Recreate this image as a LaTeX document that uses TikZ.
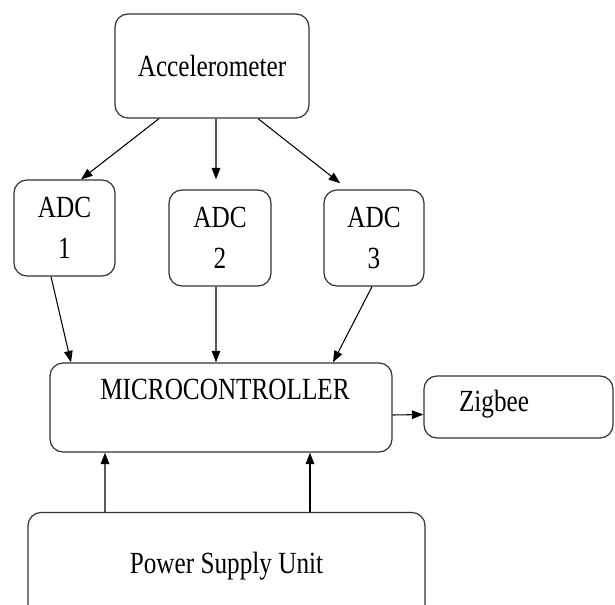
\documentclass[tikz,border=0pt]{standalone}
\usepackage{fontspec}
\setmainfont{Liberation Serif}[FakeStretch=0.82]
\usetikzlibrary{arrows.meta}

\begin{document}
\begin{tikzpicture}[
	box/.style={draw=black!80, line width=0.7pt, rounded corners=0.26cm, inner sep=0pt, align=center,
		font=\fontsize{17.5}{23}\selectfont},
	flow/.style={-{Triangle[length=2.3mm,width=1.7mm]}, line width=0.6pt},
	lbl/.style={font=\fontsize{17.5}{23}\selectfont}]
	\useasboundingbox (0,0) rectangle (12.3,12.08);
	\clip (0,0) rectangle (12.3,12.08);
	% sensor and the three converters
	\node[box, minimum width=3.88cm, minimum height=2.08cm] (acc) at (4.24,10.76) {Accelerometer};
	\node[box, minimum width=2.02cm, minimum height=1.92cm] (adc1) at (1.29,7.52) {ADC\\1};
	\node[box, minimum width=2.04cm, minimum height=1.92cm] (adc2) at (4.40,7.32) {ADC\\2};
	\node[box, minimum width=2.00cm, minimum height=1.92cm] (adc3) at (7.48,7.32) {ADC\\3};
	\draw[flow] ([xshift=-1.06cm]acc.south) -- ([xshift=0.33cm]adc1.north);
	\draw[flow, shorten >=0.2cm] ([xshift=0.08cm]acc.south) -- ([xshift=-0.08cm]adc2.north);
	\draw[flow, shorten >=0.2cm] ([xshift=0.92cm]acc.south) -- ([xshift=-0.52cm]adc3.north);
	% controller, radio, supply
	\node[box, minimum width=6.84cm, minimum height=1.78cm,
		label={[lbl, xshift=0.08cm, yshift=0.36cm]center:MICROCONTROLLER}] (mc) at (4.42,3.93) {};
	\node[box, minimum width=3.78cm, minimum height=1.24cm,
		label={[lbl, xshift=-0.49cm, yshift=0.06cm]center:Zigbee}] (zig) at (10.37,3.94) {};
	\node[box, minimum width=7.94cm, minimum height=2.14cm] (psu) at (4.53,0.76) {Power Supply Unit};
	\draw[flow] ([xshift=-0.27cm]adc1.south) -- ([xshift=-3.00cm]mc.north);
	\draw[flow] ([xshift=-0.08cm]adc2.south) -- ([xshift=-0.10cm]mc.north);
	\draw[flow] ([xshift=-0.04cm]adc3.south) -- ([xshift=2.24cm]mc.north);
	\draw[flow] ([yshift=-0.15cm]mc.east) -- ([yshift=-0.15cm]zig.west);
	\draw[flow] ([xshift=-2.43cm]psu.north) -- ([xshift=-2.32cm]mc.south);
	\draw[flow] ([xshift=1.67cm]psu.north) -- ([xshift=1.78cm]mc.south);
\end{tikzpicture}
\end{document}
